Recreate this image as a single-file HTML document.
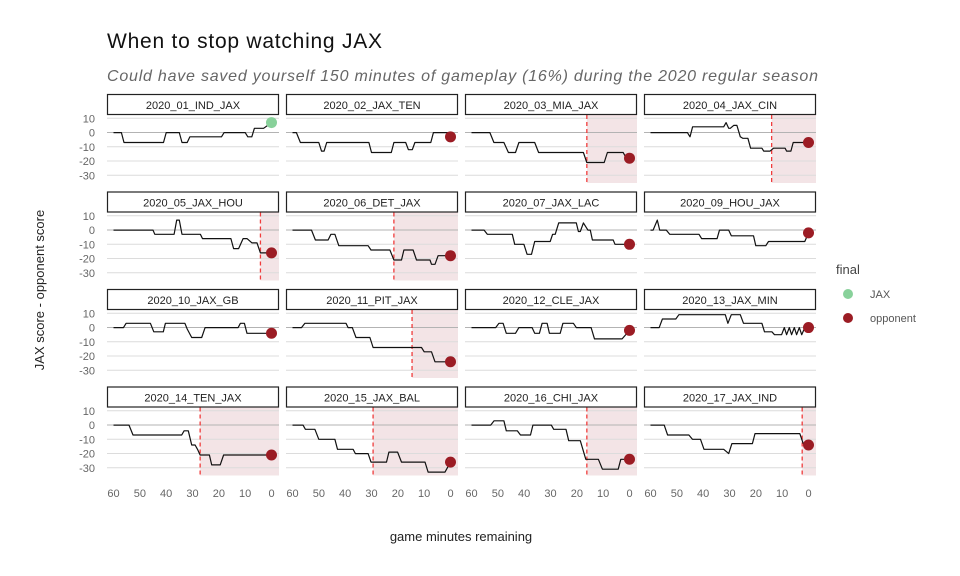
<!DOCTYPE html>
<html><head><meta charset="utf-8"><style>
html,body{margin:0;padding:0;background:#fff;}
svg{display:block;font-family:"Liberation Sans",sans-serif;}
</style></head><body>
<svg id="chart" width="960" height="576" viewBox="0 0 960 576">
<text x="107" y="48" font-size="21" fill="#111" textLength="275">When to stop watching JAX</text>
<text x="107" y="81" font-size="16" font-style="italic" fill="#666" textLength="711">Could have saved yourself 150 minutes of gameplay (16%) during the 2020 regular season</text>
<text transform="translate(44,290) rotate(-90)" text-anchor="middle" font-size="13" fill="#222">JAX score - opponent score</text>
<text x="461" y="541" text-anchor="middle" font-size="13" fill="#222">game minutes remaining</text>
<g>
<text x="836" y="274" font-size="13" fill="#444">final</text>
<circle cx="848" cy="294" r="5" fill="#88d19a"></circle>
<text x="870" y="298" font-size="11" fill="#555">JAX</text>
<circle cx="848" cy="318" r="5" fill="#9b1c24"></circle>
<text x="870" y="322" font-size="11" fill="#555">opponent</text>
</g>
<g id="panels"></g>
</svg>
<script>
const games = ["2020_01_IND_JAX","2020_02_JAX_TEN","2020_03_MIA_JAX","2020_04_JAX_CIN","2020_05_JAX_HOU","2020_06_DET_JAX","2020_07_JAX_LAC","2020_09_HOU_JAX","2020_10_JAX_GB","2020_11_PIT_JAX","2020_12_CLE_JAX","2020_13_JAX_MIN","2020_14_TEN_JAX","2020_15_JAX_BAL","2020_16_CHI_JAX","2020_17_JAX_IND"];
const winners = ["JAX","opponent","opponent","opponent","opponent","opponent","opponent","opponent","opponent","opponent","opponent","opponent","opponent","opponent","opponent","opponent"];
const cutoffs = [null,null,16.2,14,4.2,21.5,null,null,null,14.6,null,null,27.1,29.4,16.2,2.4];
const yTicks = [10,0,-10,-20,-30];
const xTicks = [60,50,40,30,20,10,0];
const s01 = [[60,0],[57,0],[56,-7],[41,-7],[40,0],[35,0],[34,-7],[32,-7],[31,-3],[19,-3],[18,0],[10,0],[9,-3],[7.5,-3],[6.5,3],[3,3],[0,7]];
const s02 = [[60,0],[58.5,0],[57,-7],[50,-7],[49,-13],[48,-13],[47,-7],[31,-7],[30,-14],[22.5,-14],[21.5,-7],[17,-7],[16,-12],[14.5,-12],[13.5,-7],[7.5,-7],[6.5,0],[1,0],[0,-3]];
const s03 = [[60,0],[53,0],[51.5,-7],[47.7,-7],[46,-14],[43.3,-14],[42,-7],[36,-7],[34.5,-14],[17.5,-14],[16.2,-21],[9.6,-21],[8.4,-14],[2.4,-14],[1.5,-17],[0,-18]];
const s04 = [[60,0],[46,0],[45,-3],[44,4],[32.2,4],[31.3,7],[30.3,3],[29.7,3],[28.4,5],[27.2,5],[25.9,-3],[25,-4],[23,-4],[22,-11],[17.7,-11],[17,-13],[14.6,-13],[13.3,-11],[8.9,-11],[8.3,-13],[6.7,-13],[5.8,-7],[0,-7]];
const s05 = [[60,0],[45,0],[44.3,-3],[37,-3],[36,7],[35,7],[34,-3],[27,-3],[26.2,-6],[15.4,-6],[14.4,-13],[12.5,-13],[10.8,-6],[9.3,-6],[7.4,-9],[5.5,-9],[4.2,-16],[0,-16]];
const s06 = [[60,0],[52.8,0],[51.3,-7],[46.5,-7],[45.4,-3],[43.9,-3],[42.4,-11],[31.3,-11],[30.2,-14],[23,-14],[21.5,-21],[18.6,-21],[17.7,-14],[14.2,-14],[12.9,-21],[7.8,-21],[7.2,-24],[5.9,-24],[4.7,-18],[0,-18]];
const s07 = [[60,0],[55.2,0],[54,-3],[44.5,-3],[43.6,-10],[40.1,-10],[38.9,-17],[37.2,-17],[36,-8],[30.1,-8],[29.2,-3],[28.2,-3],[26.9,5],[20.2,5],[19.4,-1],[18.7,-1],[17.5,5],[15.8,0],[14.9,0],[14.1,-7],[6.2,-7],[5.5,-10],[0,-10]];
const s08 = [[60,0],[59,0],[57.4,7],[56.5,0],[54,0],[52.7,-3],[41.6,-3],[40.6,-6],[34.7,-6],[33.8,0],[30.3,0],[29.3,-4],[20.9,-4],[20,-11],[16.2,-11],[15.2,-8],[1.4,-8],[0,-2]];
const s09 = [[60,0],[56.2,0],[55.2,3],[46,3],[44.7,-3],[41.1,-3],[40.3,3],[32.9,3],[32,-1],[30.3,-7],[26.5,-7],[25.2,0],[12.7,0],[11.8,3],[10.3,3],[9.3,-4],[0,-4]];
const s10 = [[60,0],[56.6,0],[55.3,3],[39.7,3],[38.9,0],[37.3,0],[35.9,-7],[30.6,-7],[29.4,-14],[11,-14],[10,-17],[7.2,-17],[5.9,-24],[0,-24]];
const s11 = [[60,0],[50.8,0],[49.6,3],[48,3],[46.8,-4],[43.3,-4],[42,0],[37,0],[36,-4],[34.2,-4],[33.2,3],[31.3,3],[30.4,-4],[26.3,-4],[25.3,3],[21.3,3],[20.2,0],[14.6,0],[13.3,-8],[2.8,-8],[0,-2]];
const s12 = [[60,0],[56.7,0],[55.5,6],[50.4,6],[49.2,9],[31.6,9],[30.6,3],[29.3,9],[25.9,9],[24.7,3],[17.7,3],[16.7,-3],[13.9,-3],[12.9,-5],[10.2,-5],[9.2,0],[8.3,-5],[7.3,0],[6.4,-5],[5.4,0],[4.5,-5],[3.5,0],[2.6,-5],[1.4,0],[0,0]];
const s13 = [[60,0],[54.1,0],[52.6,-7],[34.1,-7],[33.2,-4],[31.6,-4],[30.3,-14],[29,-14],[28.1,-17],[27.1,-21],[23.6,-21],[22.7,-28],[19.5,-28],[18.2,-21],[0,-21]];
const s14 = [[60,0],[56,0],[55.1,-3],[51.5,-3],[50,-10],[43.9,-10],[42.9,-17],[37,-17],[36.1,-20],[31.3,-20],[30.2,-26],[24.3,-26],[23.4,-19],[20.1,-19],[18.6,-26],[9.7,-26],[8.5,-33],[2.1,-33],[0,-26]];
const s15 = [[60,0],[52.7,0],[51.4,3],[47.7,3],[46.8,-4],[42.6,-4],[41.4,-7],[37.6,-7],[36.7,0],[29.7,0],[28.8,-3],[24.1,-3],[23.1,-11],[18.7,-11],[16.6,-24],[11.8,-24],[10.3,-31],[4.3,-31],[3.3,-24],[0,-24]];
const s16 = [[60,0],[54.8,0],[53.5,-7],[45.4,-7],[44.1,-10],[41,-10],[39.7,-17],[32.2,-17],[30.3,-20],[29.1,-13],[21.3,-13],[20.3,-6],[3.3,-6],[2,-13],[0,-14]];
const series = [s01,s02,s03,s04,s05,s06,s07,s08,s09,s10,s11,s12,s13,s14,s15,s16];

const NS = "http://www.w3.org/2000/svg";
const root = document.getElementById("panels");
const colX = [107,286,465,644], PW = 172;
function mk(tag, attrs, parent){ const e=document.createElementNS(NS,tag); for(const k in attrs) e.setAttribute(k,attrs[k]); (parent||root).appendChild(e); return e; }
function xScale(c,m){ return colX[c] + 6.5 + (60-m)*(158/60); }
function yScale(r,v){ return 118.3 + r*97.5 + (10-v)*(57/40); }

games.forEach((g,i)=>{
  const r=Math.floor(i/4), c=i%4, x0=colX[c];
  const stripTop = 94 + r*97.5, panelTop = stripTop+21, panelBot = panelTop+68;
  const grp = mk("g",{});
  
  
  if(cutoffs[i]!==null){
    const xc = xScale(c,cutoffs[i]);
    const sh = mk("rect",{x:xc,y:panelTop,width:x0+PW-xc,height:panelBot-panelTop,fill:"#f3e4e6"},grp);
    
    
  }
  yTicks.forEach(t=>{
    const gl = mk("line",{x1:x0,x2:x0+PW,y1:yScale(r,t),y2:yScale(r,t),stroke:t===0?"#b3b3b3":"#dcdcdc","stroke-width":1},grp);
    
    
  });
  if(cutoffs[i]!==null){
    const xc = xScale(c,cutoffs[i]);
    const cl = mk("line",{x1:xc,x2:xc,y1:panelTop,y2:panelBot,stroke:"#f03c3c","stroke-width":1.3,"stroke-dasharray":"4,3"},grp);
    
    
  }
  const strip = mk("rect",{x:x0+0.5,y:stripTop+0.5,width:PW-1,height:20,fill:"#fff",stroke:"#222","stroke-width":1.2},grp);
  
  
  const st = mk("text",{x:x0+PW/2,y:stripTop+15,"text-anchor":"middle","font-size":11,fill:"#222"},grp);
  st.textContent = g;
  
  
  const d = series[i].map((p,k)=>(k?"L":"M")+xScale(c,p[0]).toFixed(1)+","+yScale(r,p[1]).toFixed(1)).join("");
  const ln = mk("path",{d:d,fill:"none",stroke:"#111","stroke-width":1.2,"stroke-linejoin":"round"},grp);
  
  
  const last = series[i][series[i].length-1];
  const dot = mk("circle",{cx:xScale(c,last[0]),cy:yScale(r,last[1]),r:5.5,fill:winners[i]==="JAX"?"#88d19a":"#9b1c24"},grp);
  
  
  if(c===0){
    yTicks.forEach(t=>{
      const tl = mk("text",{x:95,y:yScale(r,t)+4,"text-anchor":"end","font-size":11,fill:"#666"},grp);
      tl.textContent = t;
      
      
    });
  }
  if(r===3){
    xTicks.forEach(t=>{
      const tl = mk("text",{x:xScale(c,t),y:497,"text-anchor":"middle","font-size":11,fill:"#666"},grp);
      tl.textContent = t;
      
      
    });
  }
});
</script>
</body></html>
